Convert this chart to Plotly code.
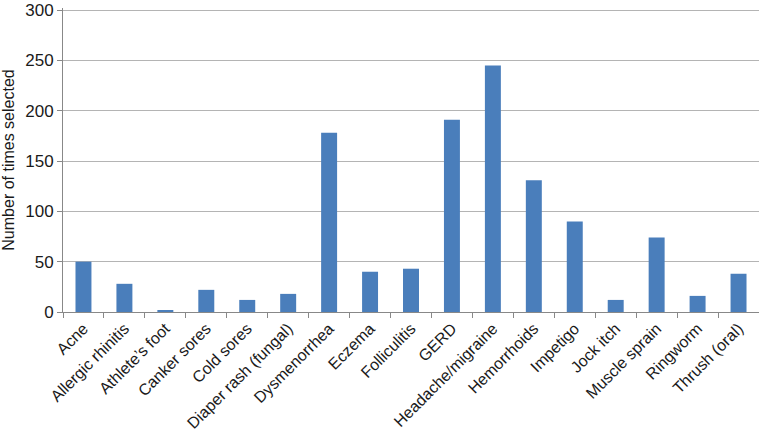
import plotly.graph_objects as go

conditions = [
    "Acne", "Allergic rhinitis", "Athlete\u2019s foot", "Canker sores", "Cold sores",
    "Diaper rash (fungal)", "Dysmenorrhea", "Eczema", "Folliculitis", "GERD",
    "Headache/migraine", "Hemorrhoids", "Impetigo", "Jock itch", "Muscle sprain",
    "Ringworm", "Thrush (oral)",
]
times_selected = [50, 28, 2, 22, 12, 18, 178, 40, 43, 191, 245, 131, 90, 12, 74, 16, 38]

fig = go.Figure(
    go.Bar(x=conditions, y=times_selected, marker_color="#4a7ebb", marker_line_width=0)
)

fig.update_layout(
    width=759,
    height=434,
    margin=dict(l=63, r=0, t=8, b=122),
    plot_bgcolor="white",
    paper_bgcolor="white",
    bargap=0.61,
    showlegend=False,
    font=dict(family="Liberation Sans, Arial, sans-serif", size=16, color="#1a1a1a"),
)
fig.update_xaxes(
    automargin=False,
    tickangle=-45,
    tickson="boundaries",
    ticks="outside",
    ticklen=5,
    tickcolor="#888888",
    showline=True,
    linecolor="#888888",
    linewidth=1,
    tickfont=dict(size=16),
    ticklabeloverflow="allow",
)
fig.update_yaxes(
    automargin=False,
    range=[0, 302],
    tickvals=[0, 50, 100, 150, 200, 250, 300],
    ticks="outside",
    ticklen=5,
    tickcolor="#888888",
    showline=True,
    linecolor="#888888",
    linewidth=1,
    showgrid=True,
    gridcolor="#b4b4b4",
    gridwidth=1,
    zeroline=False,
    tickfont=dict(size=17),
    ticklabeloverflow="allow",
    title=dict(text="Number of times selected", font=dict(size=16), standoff=6),
)

# page body has a default 8px margin; drop it so the figure sits at the corner
fig.write_html(
    "out.html",
    config={"displayModeBar": False},
    post_script="document.body.style.margin='0';",
)
